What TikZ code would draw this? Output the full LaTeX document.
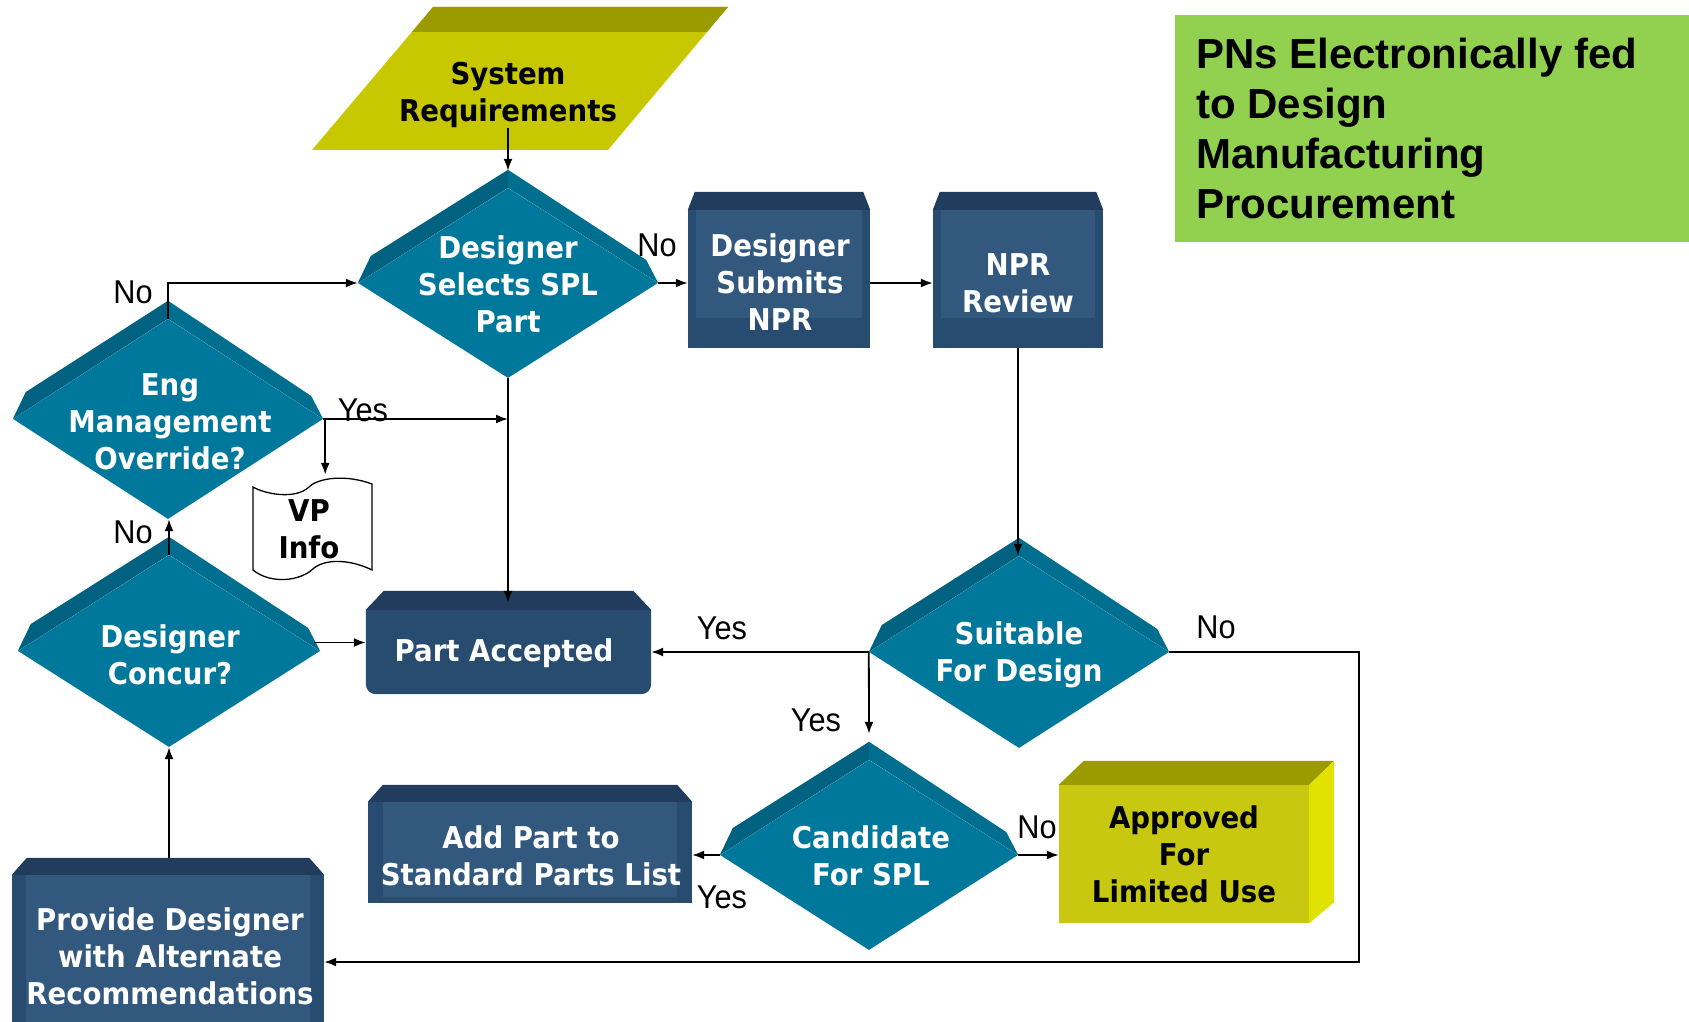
\documentclass[tikz,border=0pt]{standalone}
\usepackage{fontspec}
\usetikzlibrary{shapes.geometric,calc,arrows.meta}
\newfontfamily\bx{DejaVu Sans}[FakeStretch=0.92]
\newfontfamily\lab{Liberation Sans}[FakeStretch=0.93]
\newfontfamily\gfont{Liberation Sans}
\definecolor{teal1}{RGB}{0,120,155}
\definecolor{bevL}{RGB}{0,98,128}
\definecolor{bevR}{RGB}{0,110,142}
\definecolor{dbrim}{RGB}{40,75,112}
\definecolor{dbpanel}{RGB}{51,88,126}
\definecolor{dbtop}{RGB}{33,60,92}
\definecolor{ylw}{RGB}{200,200,0}
\definecolor{ylwtop}{RGB}{155,155,0}
\definecolor{apfront}{RGB}{200,200,16}
\definecolor{aptop}{RGB}{155,155,0}
\definecolor{apright}{RGB}{226,226,0}
\definecolor{grn}{RGB}{146,208,80}
\tikzset{
 dia/.style={diamond, fill=teal1, inner sep=0pt},
 shp/.style={rectangle, inner sep=0pt},
 wtxt/.style={text=white, font=\bx\bfseries\fontsize{30}{37}\selectfont, align=center, inner sep=0pt},
 btxt/.style={text=black, font=\bx\bfseries\fontsize{30}{37}\selectfont, align=center, inner sep=0pt},
 lbl/.style={font=\lab\fontsize{33}{38}\selectfont, inner sep=0pt},
 arr/.style={line width=1.8pt, -{Latex[length=12pt,width=9pt]}}
}
\newcommand\bevel[1]{%
 \fill[bevL] (#1.west) -- ++(13,-27) -- ($(#1.north)+(0,-18)$) -- (#1.north) -- cycle;
 \fill[bevR] (#1.north) -- ($(#1.north)+(0,-18)$) -- ($(#1.east)+(-12,-23)$) -- (#1.east) -- cycle;
}
\newcommand\dbox[5]{%
 \fill[dbrim] ($(#1.north west)+(0,#3)$) -- (#1.south west) -- (#1.south east) -- ($(#1.north east)+(0,#3)$) -- cycle;
 \fill[dbtop] ($(#1.north west)+(#2,0)$) -- ($(#1.north east)+(-#2,0)$) -- ($(#1.north east)+(0,#3)$) -- ($(#1.north west)+(0,#3)$) -- cycle;
 \fill[dbpanel] ($(#1.north west)+(#4,#3)$) rectangle ($(#1.south east)+(-#4,-#5)$);
}
\begin{document}
\begin{tikzpicture}[x=1pt,y=-1pt]
\useasboundingbox (0,0) rectangle (1689,1022);
\fill[white] (0,0) rectangle (1689,1022);

% green note
\node[shp, fill=grn, minimum width=514pt, minimum height=227pt, anchor=north west] (gbox) at (1175,15) {};
\node[anchor=west, align=left, font=\gfont\bfseries\fontsize{42}{50}\selectfont, inner sep=0pt] (gtxt) at (1196,128) {PNs Electronically fed\\to Design\\Manufacturing\\Procurement};

% system requirements
\fill[ylw] (312,150) -- (608,150) -- (728,7) -- (433,7) -- cycle;
\fill[ylwtop] (433,7) -- (728,7) -- (707,32) -- (412,32) -- cycle;
\node[btxt] (sys) at (508,95) {System\\Requirements};

% diamonds
\node[dia, minimum width=300pt, minimum height=190pt] (d1) at (508,283) {};
\bevel{d1}
\node[wtxt] (d1t) at (508,284) {Designer\\Selects SPL\\Part};

\node[dia, minimum width=310pt, minimum height=200pt] (d2) at (168,419) {};
\bevel{d2}
\node[wtxt] (d2t) at (170,422) {Eng\\Management\\Override?};

\node[dia, minimum width=302pt, minimum height=192pt] (d3) at (169,651) {};
\bevel{d3}
\node[wtxt] (d3t) at (170,655) {Designer\\Concur?};

\node[dia, minimum width=300pt, minimum height=192pt] (d4) at (1019,652) {};
\bevel{d4}
\node[wtxt] (d4t) at (1019,655) {Suitable\\For Design};

\node[dia, minimum width=298pt, minimum height=190pt] (d5) at (869,855) {};
\bevel{d5}
\node[wtxt] (d5t) at (871,856) {Candidate\\For SPL};

% dark boxes
\node[shp, minimum width=182pt, minimum height=156pt] (dsub) at (779,270) {};
\dbox{dsub}{7}{18}{8}{30}
\node[wtxt] (dsubt) at (780,282) {Designer\\Submits\\NPR};

\node[shp, minimum width=170pt, minimum height=156pt] (npr) at (1018,270) {};
\dbox{npr}{7}{18}{8}{30}
\node[wtxt] (nprt) at (1018,283) {NPR\\Review};

\node[shp, minimum width=285pt, minimum height=103pt] (acc) at (508.5,642.5) {};
\fill[dbrim] ($(acc.north west)+(0,19)$) -- ($(acc.south west)+(0,-10)$) arc[start angle=180, end angle=270, radius=10pt] -- ($(acc.south east)+(-10,0)$) arc[start angle=270, end angle=360, radius=10pt] -- ($(acc.north east)+(0,19)$) -- cycle;
\fill[dbtop] ($(acc.north west)+(18,0)$) -- ($(acc.north east)+(-18,0)$) -- ($(acc.north east)+(0,19)$) -- ($(acc.north west)+(0,19)$) -- cycle;
\node[wtxt] (acct) at (504,653) {Part Accepted};

\node[shp, minimum width=324pt, minimum height=118pt] (add) at (530,844) {};
\dbox{add}{15}{17}{15}{6}
\node[wtxt] (addt) at (531,856) {Add Part to\\Standard Parts List};

\node[shp, minimum width=312pt, minimum height=164pt] (prov) at (168,940) {};
\dbox{prov}{15}{17}{14}{0}
\node[wtxt] (provt) at (170,956) {Provide Designer\\with Alternate\\Recommendations};

% approved box
\node[shp, fill=apfront, minimum width=250pt, minimum height=138pt, btxt] (appr) at (1184,854) {Approved\\For\\Limited Use};
\fill[aptop] (appr.north west) -- ++(25,-24) -- ($(appr.north east)+(25,-24)$) -- (appr.north east) -- cycle;
\fill[apright] (appr.north east) -- ++(25,-24) -- ($(appr.south east)+(25,-21)$) -- (appr.south east) -- cycle;

% VP info
\node[shp, minimum width=120pt, minimum height=108pt] (vp) at (313,529) {};
\draw[line width=1.3pt, fill=white] (253,487) .. controls (265,494) and (295,500) .. (309,487) .. controls (318,478) and (345,474) .. (372,484) -- (372,570) .. controls (352,560) and (327,558) .. (314,568) .. controls (300,582) and (270,584) .. (253,570) -- cycle;
\node[btxt] (vpt) at (309,529) {VP\\Info};

% labels
\node[lbl] (l1) at (657,245) {No};
\node[lbl] (l2) at (133,292) {No};
\node[lbl] (l3) at (363,410) {Yes};
\node[lbl] (l4) at (133,532) {No};
\node[lbl] (l5) at (722,628) {Yes};
\node[lbl] (l6) at (1216,627) {No};
\node[lbl] (l7) at (816,720) {Yes};
\node[lbl] (l8) at (722,897) {Yes};
\node[lbl] (l9) at (1037,827) {No};

% connectors
\draw[arr] (sys.south) -- ([yshift=17pt]d1.north);
\draw[arr] (d1.east) -- (d1.east -| dsub.west);
\draw[arr] ([yshift=-13pt]dsub.east) -- ([yshift=-13pt]npr.west);
\draw[arr] (npr.south) -- (npr.south |- d4.north);
\draw[arr] (d1.south) -- ($(d1.south |- acc.north)+(0,12)$);
\coordinate (j1) at (d1.south |- d2.east);
\draw[arr] (d2.east) -- (j1);
\coordinate (j2) at ($(d2.east)+(2,0)$);
\draw[arr] (j2) -- (j2 |- vp.north);
\draw[arr] (d2.north) |- (d1.west);
\draw[arr] (d3.north) -- (d3.north |- d2.south);
\coordinate (j3) at ($(d3.east)+(-6,0)$);
\draw[arr] (j3 |- acc.west) -- (acc.west);
\draw[arr] (d4.west) -- (d4.west -| acc.east);
\draw[arr] (d4.west) -- ($(d5.north)+(0,-26)$);
\coordinate (c1) at (1359,962);
\draw[arr] (d4.east) -| (c1) -- (c1 -| prov.east);
\draw[arr] (d5.west) -- (d5.west -| add.east);
\draw[arr] (d5.east) -- (d5.east -| appr.west);
\draw[arr] (d3.south |- prov.north) -- (d3.south);
\end{tikzpicture}
\end{document}
